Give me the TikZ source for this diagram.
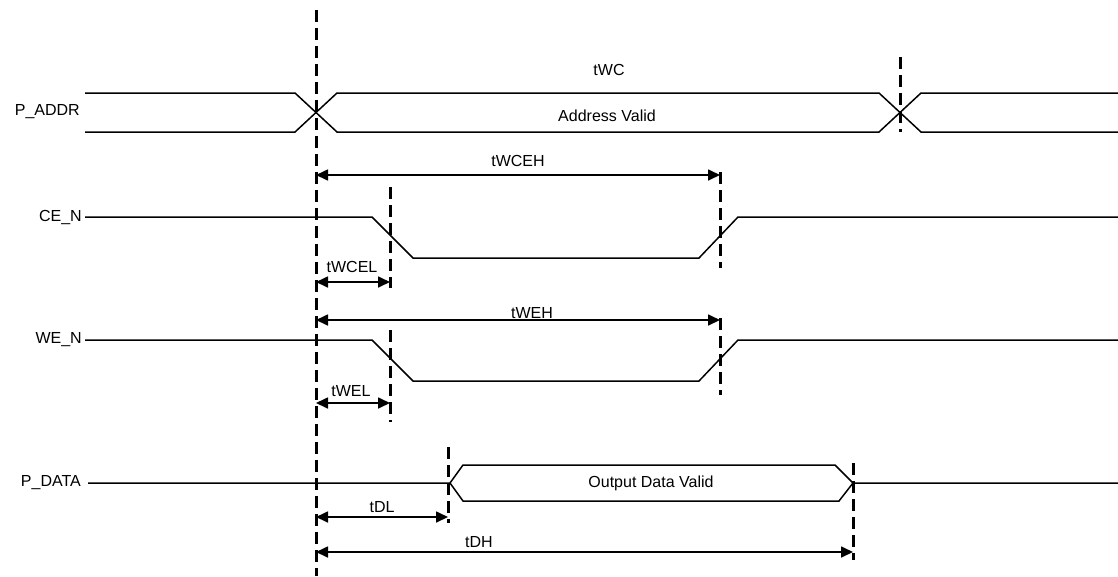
\documentclass[tikz,border=0pt]{standalone}
\usepackage{fontspec}
\setmainfont{Liberation Sans}
\usetikzlibrary{arrows.meta}
\begin{document}
\begin{tikzpicture}[x=1pt,y=-1pt,
  sig/.style={line width=1.5pt},
  guide/.style={line width=3pt, dash pattern=on 12pt off 6pt},
  dim/.style={line width=1.7pt, {Triangle[length=12pt,width=11pt]}-{Triangle[length=12pt,width=11pt]}},
  lbl/.style={font=\fontsize{16}{18}\selectfont, inner sep=0pt},
  sname/.style={lbl, anchor=east}]
\useasboundingbox (0,0) rectangle (1118,576);

% guide coordinates
\coordinate (g0t) at (316,10);  \coordinate (g0b) at (316,576);
\coordinate (g1t) at (900,57);  \coordinate (g1b) at (900,132);
\coordinate (g2t) at (720,172); \coordinate (g2b) at (720,268);
\coordinate (g3t) at (390,187); \coordinate (g3b) at (390,288);
\coordinate (g4t) at (720,318); \coordinate (g4b) at (720,395);
\coordinate (g5t) at (390,330); \coordinate (g5b) at (390,422);
\coordinate (g6t) at (448,447); \coordinate (g6b) at (448,523);
\coordinate (g7t) at (853,463); \coordinate (g7b) at (853,560);

\draw[guide] (g0t) -- (g0b);
\draw[guide] (g1t) -- (g1b);
\draw[guide] (g2t) -- (g2b);
\draw[guide] (g3t) -- (g3b);
\draw[guide] (g4t) -- (g4b);
\draw[guide] (g5t) -- (g5b);
\draw[guide] (g6t) -- (g6b);
\draw[guide] (g7t) -- (g7b);

% signal names
\node[sname] (naddr) at (80,112) {P\_ADDR};
\node[sname] (nce)   at (82,217) {CE\_N};
\node[sname] (nwe)   at (82,340) {WE\_N};
\node[sname] (ndata) at (81,483) {P\_DATA};

% P_ADDR bus
\draw[sig] (85,93) -- (295,93) -- (337,132) -- (879,132) -- (921,93) -- (1118,93);
\draw[sig] (85,132) -- (295,132) -- (337,93) -- (879,93) -- (921,132) -- (1118,132);
\node[lbl] (twc) at (609,70) {tWC};
\node[lbl] (av) at (607,116) {Address Valid};

% CE_N
\draw[sig] (85,217) -- (372,217) -- (413,258) -- (699,258) -- (738,217) -- (1118,217);
% WE_N
\draw[sig] (85,340) -- (372,340) -- (413,381) -- (699,381) -- (738,340) -- (1118,340);
% P_DATA
\draw[sig] (88,483) -- (450,483) -- (463,465) -- (835,465) -- (853,483) -- (1118,483);
\draw[sig] (450,483) -- (463,501) -- (839,501) -- (853,483);
\node[lbl] (odv) at (651,483) {Output Data Valid};

% timing arrows
\coordinate (a1l) at (316,175); \coordinate (a1r) at (720,175);
\draw[dim] (a1l) -- (a1r);
\node[lbl] (twceh) at (518,161) {tWCEH};

\coordinate (a2l) at (316,282); \coordinate (a2r) at (390,282);
\draw[dim] (a2l) -- (a2r);
\node[lbl] (twcel) at (352,267) {tWCEL};

\coordinate (a3l) at (316,320); \coordinate (a3r) at (720,320);
\draw[dim] (a3l) -- (a3r);
\node[lbl] (tweh) at (532,313) {tWEH};

\coordinate (a4l) at (316,403); \coordinate (a4r) at (390,403);
\draw[dim] (a4l) -- (a4r);
\node[lbl] (twel) at (351,391) {tWEL};

\coordinate (a5l) at (316,517); \coordinate (a5r) at (448,517);
\draw[dim] (a5l) -- (a5r);
\node[lbl] (tdl) at (382,507) {tDL};

\coordinate (a6l) at (316,552); \coordinate (a6r) at (853,552);
\draw[dim] (a6l) -- (a6r);
\node[lbl] (tdh) at (479,542) {tDH};
\end{tikzpicture}
\end{document}
